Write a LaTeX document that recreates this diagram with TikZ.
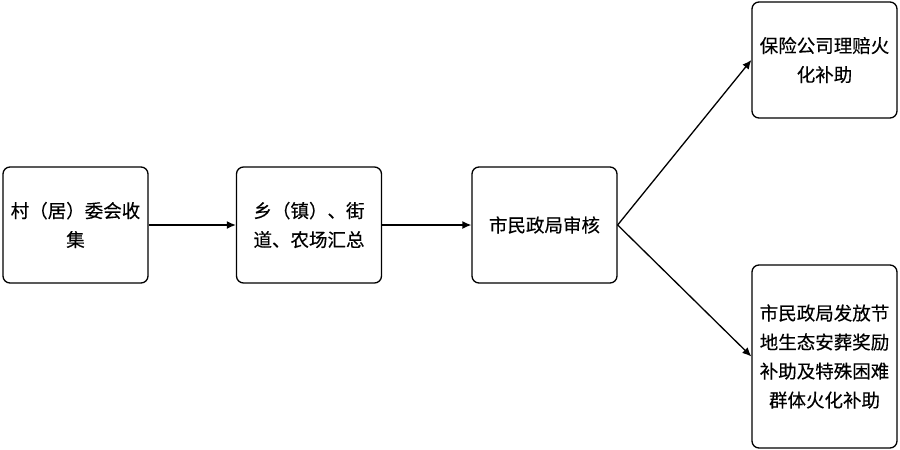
\documentclass[tikz,border=0pt]{standalone}
\usepackage{fontspec}
\newfontfamily\cjk[FakeBold=0.3]{Noto Sans CJK SC}
\usetikzlibrary{arrows.meta}
\begin{document}
\begin{tikzpicture}[x=1pt,y=-1pt,
  box/.style={draw,line width=1.3pt,rounded corners=7pt,minimum width=145pt,align=center,font=\cjk\fontsize{18.5}{29}\selectfont,inner sep=0pt},
  arr/.style={-{Latex[length=9pt,width=8pt]},line width=1.3pt}]
\useasboundingbox (0,0) rectangle (900,450);
\node[box,minimum height=116pt] (a) at (75.5,225) {村（居）委会收\\集};
\node[box,minimum height=116pt] (b) at (309,225) {乡（镇）、街\\道、农场汇总};
\node[box,minimum height=116pt] (c) at (544.5,225) {市民政局审核};
\node[box,minimum height=116pt] (d) at (824.5,60) {保险公司理赔火\\化补助};
\node[box,minimum height=183pt] (e) at (824.5,356.5) {市民政局发放节\\地生态安葬奖励\\补助及特殊困难\\群体火化补助};
\draw[arr] (a) -- (b);
\draw[arr] (b) -- (c);
\draw[arr] (c.east) -- (d.west);
\draw[arr] (c.east) -- (e.west);
\end{tikzpicture}
\end{document}
